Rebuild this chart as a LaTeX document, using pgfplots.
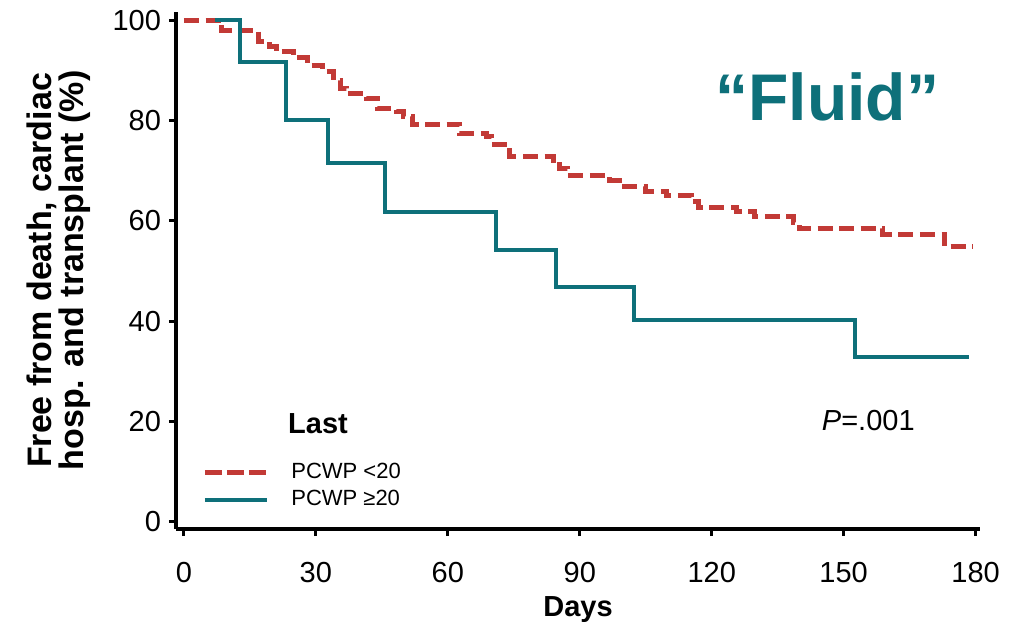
\documentclass[border=0pt]{standalone}
\usepackage{pgfplots}
\pgfplotsset{compat=1.18}
\usepackage{fontspec}
\setmainfont{Liberation Sans}
\definecolor{kmred}{RGB}{194,58,54}
\definecolor{kmteal}{RGB}{14,112,122}
\begin{document}
\begin{tikzpicture}
\begin{axis}[
  name=ax,
  scale only axis,
  width=402pt, height=258.5pt,
  xmin=-1.8, xmax=181, ymin=-1.4, ymax=101.6,
  axis x line=bottom, axis y line=left,
  axis line style={line width=1.6pt, -},
  xtick={0,30,60,90,120,150,180},
  ytick={0,20,40,60,80,100},
  tick align=outside,
  major tick length=3.5pt,
  every tick/.style={black, line width=1.5pt},
  tick label style={font=\fontsize{14.5}{14.5}\selectfont},
  xticklabel style={yshift=-9.5pt},
  yticklabel style={xshift=-0.5pt},
  /pgf/number format/assume math mode=true,
  xlabel={Days},
  ylabel={Free from death, cardiac\\hosp. and transplant (\%)},
  ylabel shift=4pt,
  ylabel style={align=center, font=\fontsize{17}{16}\selectfont\bfseries},
  xlabel style={font=\fontsize{14.5}{14.5}\selectfont\bfseries},
  legend style={at={(axis cs:4.1,12.6)}, anchor=north west, draw=none, fill=none,
    font=\fontsize{11}{12}\selectfont, row sep=0.5pt, inner sep=0pt},
  legend cell align=left,
]
\addplot[const plot, kmred, line width=2.5pt, dash pattern=on 7.5pt off 3.3pt,
  legend image code/.code={\draw[kmred, line width=2.5pt, dash pattern=on 8.5pt off 2.5pt] (0pt,0pt) -- (31pt,0pt);}]
coordinates {
(0,100) (8.6,97.9) (17,95.7) (19.5,94.7) (21,93.7) (25,92.5) (28,91)
(31.6,89.7) (34,88) (35.5,86.4) (37,85.4) (41.5,84.4) (44,82.4) (48.3,81.7)
(50,80.7) (52,79.2) (62.7,77.4) (68.8,76.8) (70,75.3) (74,72.9) (84,72.1)
(85.5,70.5) (87.3,69) (96.8,68.1) (100.2,66.8) (105,65.9) (109.7,65)
(115.4,63.8) (117,62.7) (125.6,61.8) (129.8,60.8) (138.5,59.6) (140,58.4)
(158.9,57.3) (173,54.8) (179.4,54.8)
};
\addlegendentry{\hspace{9pt}PCWP <20}
\addplot[const plot, kmteal, line width=2pt,
  legend image code/.code={\draw[kmteal, line width=2pt] (0pt,0pt) -- (31pt,0pt);}]
coordinates {
(7,100) (12.7,91.7) (23.3,80.1) (32.7,71.5) (45.7,61.8) (71,54.2)
(84.5,46.8) (102.3,40.2) (152.5,32.9) (178.6,32.9)
};
\addlegendentry{\hspace{9pt}PCWP ≥20}
\node[font=\fontsize{14.5}{14.5}\selectfont\bfseries] at (axis cs:30.5,19.6) {Last};
\node[font=\fontsize{14.5}{14.5}\selectfont] at (axis cs:155.6,20.3) {\textit{P}=.001};
\node[font=\fontsize{33}{33}\selectfont\bfseries, text=kmteal] at (axis cs:146.3,84.7) {“Fluid”};
\end{axis}
\pgfresetboundingbox
\path[use as bounding box] ([xshift=-88pt,yshift=-49.5pt]ax.south west) rectangle ([xshift=419pt,yshift=264.5pt]ax.south west);
\end{tikzpicture}
\end{document}
